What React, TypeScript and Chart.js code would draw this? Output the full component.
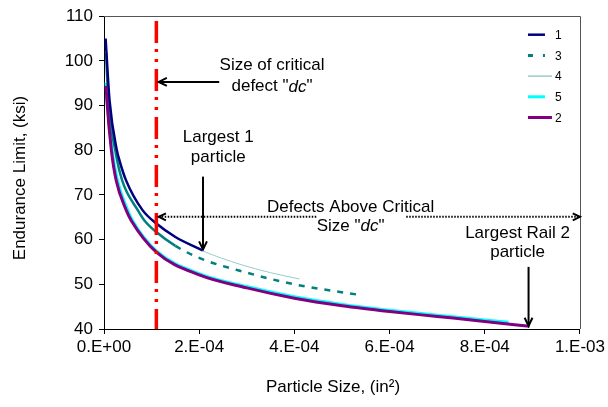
import React, { useEffect, useRef } from "react";
import { Chart, registerables } from "chart.js";

Chart.register(...registerables);

// ---------- data ----------
const xTickLabels = ["0.E+00", "2.E-04", "4.E-04", "6.E-04", "8.E-04", "1.E-03"];

const s1Label = "1";
const s1x = [3.4e-6, 1.17e-5, 2.7e-5, 3.26e-5, 4.66e-5, 8.1e-5, 1.1e-4, 1.5e-4, 2.07e-4];
const s1y = [105, 91.1, 80, 77.7, 73.2, 66.6, 63.6, 60.6, 57.6];

const s3Label = "3";
const s3x = [4.4e-6, 9.0e-6, 2.36e-5, 3.83e-5, 7.09e-5, 8.49e-5, 1.1e-4, 1.5e-4, 2.0e-4, 3.0e-4, 4.0e-4, 5.44e-4];
const s3y = [101.8, 91.1, 80, 73.2, 66.6, 64.3, 61.7, 58.6, 55.9, 52.6, 50.0, 47.5];

const s4Label = "4";
const s4x = [6.0e-6, 1.2e-5, 2.7e-5, 4.7e-5, 8.1e-5, 1.1e-4, 1.5e-4, 2.07e-4, 2.88e-4, 3.5e-4, 4.11e-4];
const s4y = [99.3, 90, 79.6, 72.8, 66.4, 63.5, 60.5, 57.5, 54.4, 52.6, 51.2];

const s5Label = "5";
const s5x = [4.4e-6, 6.5e-6, 1.65e-5, 2.84e-5, 4.9e-5, 5.98e-5, 1.1e-4, 2.0e-4, 3.0e-4, 4.0e-4, 5.0e-4, 6.0e-4, 7.0e-4, 8.0e-4, 8.5e-4];
const s5y = [95.1, 91.5, 80.3, 73.2, 66.8, 64.3, 57.5, 52.4, 49.5, 47.2, 45.5, 44.2, 43.1, 42.0, 41.5];

const s2Label = "2";
const s2x = [4.4e-6, 6.1e-6, 1.55e-5, 2.57e-5, 4.66e-5, 5.71e-5, 1.1e-4, 2.0e-4, 3.0e-4, 4.0e-4, 5.0e-4, 6.0e-4, 7.0e-4, 8.0e-4, 8.94e-4];
const s2y = [94.4, 91.1, 80, 73.2, 66.6, 64.3, 57.2, 52.1, 49.2, 46.9, 45.2, 43.9, 42.8, 41.7, 40.6];

const critX = 1.1e-4;
const critTop = 108.9;
const dashFromX = 1.5e-4;

const FONT = "'Liberation Sans', Arial, sans-serif";
const TS = 17;

const zip = (xs: number[], ys: number[]) => xs.map((x, i) => ({ x, y: ys[i] }));

function arrowHead(ctx: CanvasRenderingContext2D, x: number, y: number, angle: number, len = 9, spread = 0.45) {
  ctx.beginPath();
  ctx.moveTo(x - len * Math.cos(angle - spread), y - len * Math.sin(angle - spread));
  ctx.lineTo(x, y);
  ctx.lineTo(x - len * Math.cos(angle + spread), y - len * Math.sin(angle + spread));
  ctx.stroke();
}

type Part = { t: string; italic?: boolean };
function drawParts(ctx: CanvasRenderingContext2D, parts: Part[], cx: number, cy: number, size: number) {
  const fontOf = (p: Part) => `${p.italic ? "italic " : ""}${size}px ${FONT}`;
  let total = 0;
  const widths = parts.map((p) => {
    ctx.font = fontOf(p);
    const w = ctx.measureText(p.t).width;
    total += w;
    return w;
  });
  let x = cx - total / 2;
  ctx.textAlign = "left";
  ctx.textBaseline = "middle";
  ctx.fillStyle = "#000";
  parts.forEach((p, i) => {
    ctx.font = fontOf(p);
    ctx.fillText(p.t, x, cy);
    x += widths[i];
  });
}

const annotPlugin = {
  id: "annot",
  afterDraw(chart: any) {
    const ctx: CanvasRenderingContext2D = chart.ctx;
    const xs = chart.scales.x;
    const ys = chart.scales.y;
    const area = chart.chartArea;
    const px = (v: number) => xs.getPixelForValue(v);
    const py = (v: number) => ys.getPixelForValue(v);
    ctx.save();

    // frame top / right
    ctx.strokeStyle = "#555";
    ctx.lineWidth = 1;
    ctx.beginPath();
    ctx.moveTo(area.left, Math.round(area.top) + 0.5);
    ctx.lineTo(Math.round(area.right) + 0.5, Math.round(area.top) + 0.5);
    ctx.lineTo(Math.round(area.right) + 0.5, area.bottom);
    ctx.stroke();

    // Size of critical defect
    drawParts(ctx, [{ t: "Size of critical" }], px(3.53e-4), py(98.9), TS);
    drawParts(ctx, [{ t: 'defect "' }, { t: "dc", italic: true }, { t: '"' }], px(3.53e-4), py(94.2), TS);
    ctx.strokeStyle = "#000";
    ctx.lineWidth = 2;
    ctx.beginPath();
    ctx.moveTo(px(2.42e-4), py(95.3));
    ctx.lineTo(px(1.15e-4), py(95.3));
    ctx.stroke();
    arrowHead(ctx, px(1.15e-4), py(95.3), Math.PI);

    // Largest 1 particle
    drawParts(ctx, [{ t: "Largest 1" }], px(2.4e-4), py(82.8), TS);
    drawParts(ctx, [{ t: "particle" }], px(2.4e-4), py(78.4), TS);
    ctx.beginPath();
    ctx.moveTo(px(2.08e-4), py(74.1));
    ctx.lineTo(px(2.08e-4), py(57.8));
    ctx.stroke();
    arrowHead(ctx, px(2.08e-4), py(57.8), Math.PI / 2);

    // Defects above critical size
    ctx.setLineDash([1.5, 1.5]);
    ctx.beginPath();
    ctx.moveTo(px(1.15e-4), py(65.1));
    ctx.lineTo(px(4.47e-4), py(65.1));
    ctx.moveTo(px(6.35e-4), py(65.1));
    ctx.lineTo(px(1.0e-3), py(65.1));
    ctx.stroke();
    ctx.setLineDash([]);
    arrowHead(ctx, px(1.15e-4), py(65.1), Math.PI, 8);
    arrowHead(ctx, px(1.0e-3), py(65.1), 0, 8);
    drawParts(ctx, [{ t: "Defects Above Critical" }], px(5.18e-4), py(67.3), TS);
    drawParts(ctx, [{ t: 'Size "' }, { t: "dc", italic: true }, { t: '"' }], px(5.18e-4), py(63.0), TS);

    // Largest Rail 2 particle
    drawParts(ctx, [{ t: "Largest Rail 2" }], px(8.69e-4), py(61.4), TS);
    drawParts(ctx, [{ t: "particle" }], px(8.69e-4), py(57.2), TS);
    ctx.beginPath();
    ctx.moveTo(px(8.92e-4), py(53.9));
    ctx.lineTo(px(8.92e-4), py(40.7));
    ctx.stroke();
    arrowHead(ctx, px(8.92e-4), py(40.7), Math.PI / 2);

    // axis titles
    ctx.fillStyle = "#000";
    ctx.font = `${TS}px ${FONT}`;
    ctx.textAlign = "center";
    ctx.textBaseline = "middle";
    ctx.fillText("Particle Size, (in\u00B2)", 333, 387);
    ctx.save();
    ctx.translate(20, 178);
    ctx.rotate(-Math.PI / 2);
    ctx.fillText("Endurance Limit, (ksi)", 0, 0);
    ctx.restore();

    // legend
    const items = chart.data.datasets.filter((d: any) => d.inLegend);
    ctx.font = `12px ${FONT}`;
    ctx.textAlign = "left";
    items.forEach((d: any, i: number) => {
      const y = area.top + 18.5 + i * 20.7;
      ctx.strokeStyle = d.borderColor;
      ctx.lineWidth = d.legendWidth;
      ctx.setLineDash(d.legendDash || []);
      ctx.beginPath();
      ctx.moveTo(area.right - 52, y);
      ctx.lineTo(area.right - (d.legendLong ? 28 : 35), y);
      ctx.stroke();
      ctx.setLineDash([]);
      ctx.fillStyle = "#000";
      ctx.fillText(d.label, area.right - 25, y + 1);
    });

    ctx.restore();
  },
};

export default function App() {
  const ref = useRef<HTMLCanvasElement | null>(null);
  useEffect(() => {
    if (!ref.current) return;
    const common = { pointRadius: 0, fill: false, cubicInterpolationMode: "monotone" as const };
    const chart = new Chart(ref.current, {
      type: "line",
      data: {
        datasets: [
          { label: s1Label, data: zip(s1x, s1y), borderColor: "#000080", borderWidth: 2.5, order: 2, inLegend: true, legendWidth: 2.5, ...common } as any,
          {
            label: s3Label,
            data: zip(s3x, s3y),
            borderColor: "#008080",
            borderWidth: 2.5,
            segment: { borderDash: (c: any) => (c.p0.parsed.x >= dashFromX ? [6, 7] : undefined) },
            order: 3,
            inLegend: true,
            legendWidth: 3,
            legendDash: [5, 10],
            ...common,
          } as any,
          { label: s4Label, data: zip(s4x, s4y), borderColor: "#99CCCC", borderWidth: 1, order: 5, inLegend: true, legendWidth: 1.5, legendLong: true, ...common } as any,
          { label: s5Label, data: zip(s5x, s5y), borderColor: "#00FFFF", borderWidth: 3, order: 4, inLegend: true, legendWidth: 3, ...common } as any,
          { label: s2Label, data: zip(s2x, s2y), borderColor: "#800080", borderWidth: 3, order: 1, inLegend: true, legendWidth: 3, legendLong: true, ...common } as any,
          {
            label: "dc",
            data: [{ x: critX, y: critTop }, { x: critX, y: 40 }],
            borderColor: "#FF0000",
            borderWidth: 3.5,
            borderDash: [22, 6, 3, 7, 3, 7],
            pointRadius: 0,
            order: 0,
          } as any,
        ],
      },
      options: {
        responsive: false,
        animation: false,
        events: [],
        layout: { padding: { top: 15, right: 26, left: 0, bottom: 0 } },
        plugins: { legend: { display: false }, tooltip: { enabled: false }, title: { display: false } },
        scales: {
          x: {
            type: "linear",
            min: 0,
            max: 1e-3,
            afterFit: (s: any) => { s.height = 78; },
            afterBuildTicks: (s: any) => { s.ticks = xTickLabels.map((_, i) => ({ value: i * 2e-4 })); },
            ticks: {
              color: "#000",
              font: { family: FONT, size: TS },
              padding: 3,
              maxRotation: 0,
              autoSkip: false,
              callback: (_v: any, i: number) => xTickLabels[i],
            },
            grid: { drawOnChartArea: false, drawTicks: true, tickLength: 5, color: "#000" },
            border: { color: "#000", width: 1 },
          },
          y: {
            type: "linear",
            min: 40,
            max: 110,
            afterFit: (s: any) => { s.width = 104; },
            ticks: { stepSize: 10, color: "#000", font: { family: FONT, size: TS }, padding: 6 },
            grid: { drawOnChartArea: false, drawTicks: true, tickLength: 5, color: "#000" },
            border: { color: "#000", width: 1 },
          },
        },
      },
      plugins: [annotPlugin],
    });
    return () => chart.destroy();
  }, []);
  return (
    <div style={{ position: "absolute", left: 0, top: 0, width: 608, height: 407, background: "#fff" }}>
      <canvas ref={ref} width={608} height={407} style={{ display: "block" }} />
    </div>
  );
}
